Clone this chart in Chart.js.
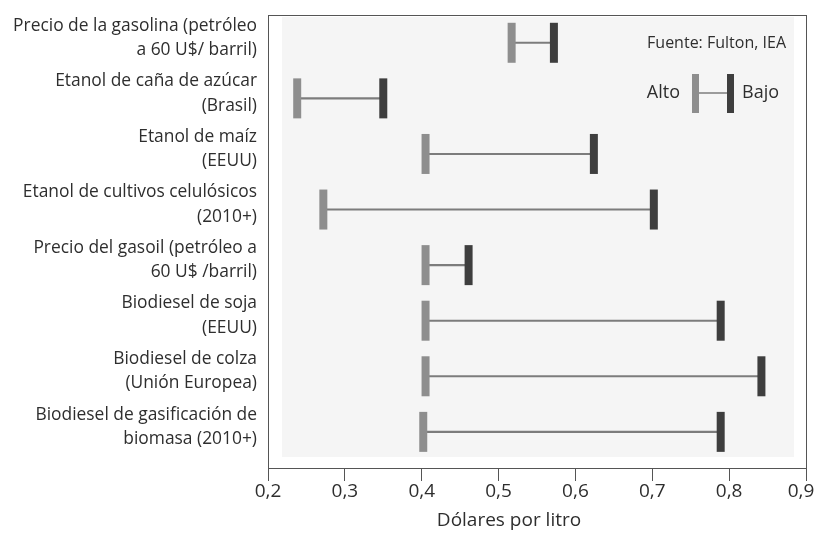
<!DOCTYPE html>
<html>
<head>
<meta charset="utf-8">
<script src="https://cdn.jsdelivr.net/npm/chart.js@4/dist/chart.umd.min.js"></script>
<style>
  html, body { margin: 0; padding: 0; background: #fff; }
  #wrap { width: 817px; height: 533px; }
</style>
</head>
<body>
<div id="wrap"><canvas id="rangeChart"></canvas></div>
<script>
// categorias (dos lineas cada una)
const categories = [
	['Precio de la gasolina (petróleo', 'a 60 U$/ barril)'],
	['Etanol de caña de azúcar', '(Brasil)'],
	['Etanol de maíz', '(EEUU)'],
	['Etanol de cultivos celulósicos', '(2010+)'],
	['Precio del gasoil (petróleo a', '60 U$ /barril)'],
	['Biodiesel de soja', '(EEUU)'],
	['Biodiesel de colza', '(Unión Europea)'],
	['Biodiesel de gasificación de', 'biomasa (2010+)'],
];
const alto = [0.517, 0.238, 0.405, 0.272, 0.405, 0.405, 0.405, 0.402];
const bajo = [0.572, 0.35, 0.624, 0.702, 0.461, 0.789, 0.842, 0.789];
const xTicks = [0.2, 0.3, 0.4, 0.5, 0.6, 0.7, 0.8, 0.9];

const FONT = "'Open Sans', sans-serif";
const LIGHT = '#8e8e8e';
const DARK = '#3e3e3e';
const LINE = '#7c7c7c';

const framePlugin = {
	id: 'frame',
	beforeDatasetsDraw(chart) {
		const { ctx, chartArea: a } = chart;
		ctx.save();
		ctx.fillStyle = '#f5f5f5';
		ctx.fillRect(a.left + 14, a.top + 2, a.right - a.left - 26, a.bottom - a.top - 13);
		ctx.restore();
	},
	afterDraw(chart) {
		const { ctx, chartArea: a } = chart;
		ctx.save();
		ctx.strokeStyle = '#555';
		ctx.lineWidth = 1;
		ctx.strokeRect(a.left + 0.5, a.top + 0.5, a.right - a.left, a.bottom - a.top);

		// titulo del eje
		ctx.fillStyle = '#2e2e2e';
		ctx.font = '19px ' + FONT;
		ctx.textAlign = 'center';
		ctx.textBaseline = 'middle';
		ctx.fillText('Dólares por litro', 509, 521);

		// fuente y leyenda
		ctx.font = '16px ' + FONT;
		ctx.textAlign = 'right';
		ctx.fillText('Fuente: Fulton, IEA', 786, 43);
		ctx.font = '18px ' + FONT;
		ctx.fillText('Alto', 680, 93);
		ctx.textAlign = 'left';
		ctx.fillText('Bajo', 742, 93);
		ctx.strokeStyle = LINE;
		ctx.lineWidth = 1.5;
		ctx.beginPath();
		ctx.moveTo(696, 93);
		ctx.lineTo(730, 93);
		ctx.stroke();
		ctx.fillStyle = LIGHT;
		ctx.fillRect(692, 74, 7, 39);
		ctx.fillStyle = DARK;
		ctx.fillRect(727, 74, 7, 39);
		ctx.restore();
	},
};

const markerStyle = {
	type: 'scatter',
	pointStyle: 'line',
	rotation: 90,
	pointRadius: 20,
	pointHoverRadius: 20,
	borderWidth: 8,
	pointBorderWidth: 8,
};

new Chart(document.getElementById('rangeChart'), {
	type: 'scatter',
	data: {
		datasets: [
			{
				type: 'bar',
				indexAxis: 'y',
				label: 'rango',
				order: 3,
				data: categories.map((c, i) => ({ x: [alto[i], bajo[i]], y: i })),
				backgroundColor: LINE,
				barThickness: 1.5,
			},
			{
				...markerStyle,
				label: 'Alto',
				order: 1,
				data: categories.map((c, i) => ({ x: alto[i], y: i })),
				borderColor: LIGHT,
				backgroundColor: LIGHT,
			},
			{
				...markerStyle,
				label: 'Bajo',
				order: 2,
				data: categories.map((c, i) => ({ x: bajo[i], y: i })),
				borderColor: DARK,
				backgroundColor: DARK,
			},
		],
	},
	options: {
		responsive: true,
		maintainAspectRatio: false,
		animation: false,
		events: [],
		layout: { autoPadding: false, padding: { top: 15, right: 11, left: 0, bottom: 0 } },
		plugins: { legend: { display: false }, tooltip: { enabled: false } },
		scales: {
			x: {
				type: 'linear',
				min: 0.2,
				max: 0.9,
				offset: false,
				afterBuildTicks: (axis) => {
					axis.ticks = xTicks.map((v) => ({ value: v }));
				},
				afterFit: (axis) => {
					axis.height = 65;
					axis.paddingLeft = 0;
					axis.paddingRight = 0;
				},
				grid: {
					drawOnChartArea: false,
					drawTicks: true,
					tickLength: 13,
					color: '#555',
				},
				border: { display: false },
				ticks: {
					padding: 1,
					color: '#2e2e2e',
					font: { family: FONT, size: 19, lineHeight: 1 },
					maxRotation: 0,
					// la ultima etiqueta se corre un poco a la izquierda para que no se corte
					callback: (v, i, ticks) => {
						const txt = Number(v).toFixed(1).replace('.', ',');
						return i === ticks.length - 1 ? txt + '  ' : txt;
					},
				},
			},
			y: {
				type: 'linear',
				reverse: true,
				min: -0.5,
				max: 7.65,
				offset: false,
				afterBuildTicks: (axis) => {
					axis.ticks = categories.map((c, i) => ({ value: i - 0.09 }));
				},
				afterFit: (axis) => {
					axis.width = 268;
					axis.paddingTop = 0;
					axis.paddingBottom = 0;
				},
				grid: { display: false, drawTicks: false },
				border: { display: false },
				ticks: {
					padding: 11,
					color: '#2e2e2e',
					font: { family: FONT, size: 17.4, lineHeight: 1.4 },
					callback: (v) => categories[Math.round(v)],
				},
			},
		},
	},
	plugins: [framePlugin],
});
</script>
</body>
</html>
